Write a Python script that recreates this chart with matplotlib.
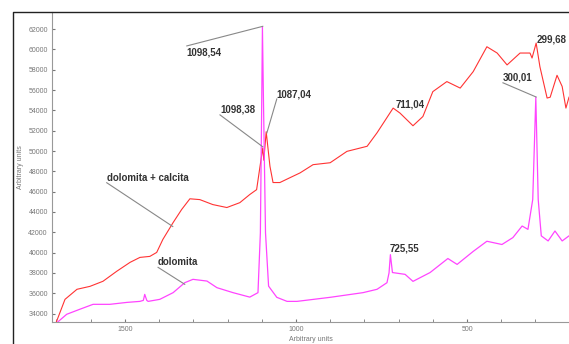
"""
Raman spectra of dolomite and dolomite + calcite with labelled peaks.
"""
import matplotlib
matplotlib.use('Agg')
import matplotlib.pyplot as plt
from matplotlib.lines import Line2D

# dolomita + calcita (red)
red_x = [1700, 1675, 1640, 1602, 1564, 1524, 1485, 1456, 1427, 1407, 1389,
         1359, 1334, 1310, 1281, 1243, 1202, 1164, 1135, 1115, 1105, 1100,
         1097, 1094, 1087, 1076, 1067, 1047, 1018, 988, 950, 900, 851, 792,
         763, 716, 696, 658, 629, 600, 559, 520, 482, 442, 412, 383, 345,
         316, 310, 298, 287, 266, 257, 237, 222, 211, 202]
red_y = [33200, 35400, 36390, 36680, 37180, 38160, 39040, 39530, 39630,
         40020, 41300, 42960, 44250, 45300, 45220, 44730, 44440, 44920,
         45720, 46200, 48500, 49640, 50300, 49100, 51900, 48500, 46900,
         46900, 47370, 47850, 48660, 48850, 49970, 50470, 51800, 54230,
         53740, 52490, 53400, 55850, 56840, 56200, 57820, 60270, 59650,
         58480, 59650, 59650, 59160, 60630, 58300, 55220, 55300, 57460,
         56360, 54230, 55300]

# dolomita (magenta)
mag_x = [1697, 1670, 1632, 1593, 1544, 1494, 1456, 1446, 1442, 1436, 1432,
         1398, 1359, 1325, 1301, 1260, 1231, 1184, 1135, 1111, 1104, 1100,
         1098, 1095, 1089, 1080, 1056, 1026, 997, 900, 804, 763, 734, 728,
         724, 718, 681, 658, 608, 556, 529, 482, 442, 398, 366, 339, 322,
         308, 299, 292, 283, 263, 243, 222, 202]
mag_y = [33150, 33930, 34420, 34910, 34910, 35100, 35200, 35300, 35890,
         35300, 35200, 35400, 36060, 37040, 37370, 37200, 36550, 36060,
         35620, 36060, 41950, 55000, 62200, 55000, 41950, 36700, 35600,
         35200, 35200, 35600, 36060, 36390, 37040, 38000, 39800, 38040,
         37860, 37170, 38040, 39420, 38840, 40120, 41120, 40800, 41480,
         42620, 42290, 45230, 55300, 45230, 41650, 41150, 42130, 41150,
         41650]

# label text, text anchor, leader line end (None = no leader)
labels = ['1098,54', '1098,38', '1087,04', 'dolomita + calcita', 'dolomita',
          '711,04', '725,55', '300,01', '299,68']
label_x = [1319, 1222, 1056, 1553, 1403, 710, 725, 395, 298]
label_y = [59660, 54060, 55600, 47370, 39040, 54600, 40400, 57250, 60940]
leader_start = [(1319, 60350), (1222, 53560), (1056, 55130), (1553, 46880),
                (1403, 38550), None, None, (395, 56720), None]
leader_end = [(1097, 62280), (1097, 50420), (1085, 51790), (1360, 42570),
              (1325, 36880), None, None, (298, 55320), None]

y_ticks = list(range(34000, 62001, 2000))
x_ticks = [1500, 1000, 500]

fig = plt.figure(figsize=(5.69, 3.44), dpi=100)
ax = fig.add_axes([52 / 569, 22 / 344, 517 / 569, 310 / 344])

ax.plot(red_x, red_y, color='#ff3333', lw=0.8)
ax.plot(mag_x, mag_y, color='#ff44ff', lw=0.9)

for text, tx, ty, start, end in zip(labels, label_x, label_y,
                                    leader_start, leader_end):
    ax.text(tx, ty, text, fontsize=7, fontweight='bold', color='#333333',
            family=['Liberation Sans', 'DejaVu Sans'], va='center',
            ha='left')
    if start is not None:
        ax.plot([start[0], end[0]], [start[1], end[1]], color='#888888',
                lw=0.8)

ax.set_xlim(1713, 202)
ax.set_ylim(33170, 63690)
ax.set_xticks(x_ticks)
ax.set_xticks(range(1700, 201, -100), minor=True)
ax.set_yticks(y_ticks)
ax.tick_params(axis='both', labelsize=5, colors='#777777', length=2,
               direction='in', pad=3)
ax.tick_params(axis='x', which='minor', length=2, colors='#777777',
               direction='in')
for lab in ax.get_xticklabels() + ax.get_yticklabels():
    lab.set_family(['Liberation Sans', 'DejaVu Sans'])

ax.spines['top'].set_visible(False)
ax.spines['right'].set_visible(False)
ax.spines['left'].set_color('#999999')
ax.spines['left'].set_linestyle((0, (1, 1)))
ax.spines['bottom'].set_color('#999999')

ax.set_xlabel('Arbitrary units', fontsize=5, color='#777777', labelpad=2,
              family=['Liberation Sans', 'DejaVu Sans'])
ax.set_ylabel('Arbitrary units', fontsize=5, color='#777777', labelpad=3,
              family=['Liberation Sans', 'DejaVu Sans'])

# outer frame of the graph window
fig.add_artist(Line2D([13 / 569, 13 / 569, 1.0], [0.0, 1 - 12 / 344,
                                                    1 - 12 / 344],
                      transform=fig.transFigure, color='#222222', lw=1.0))

fig.savefig('out.png', dpi=100)
